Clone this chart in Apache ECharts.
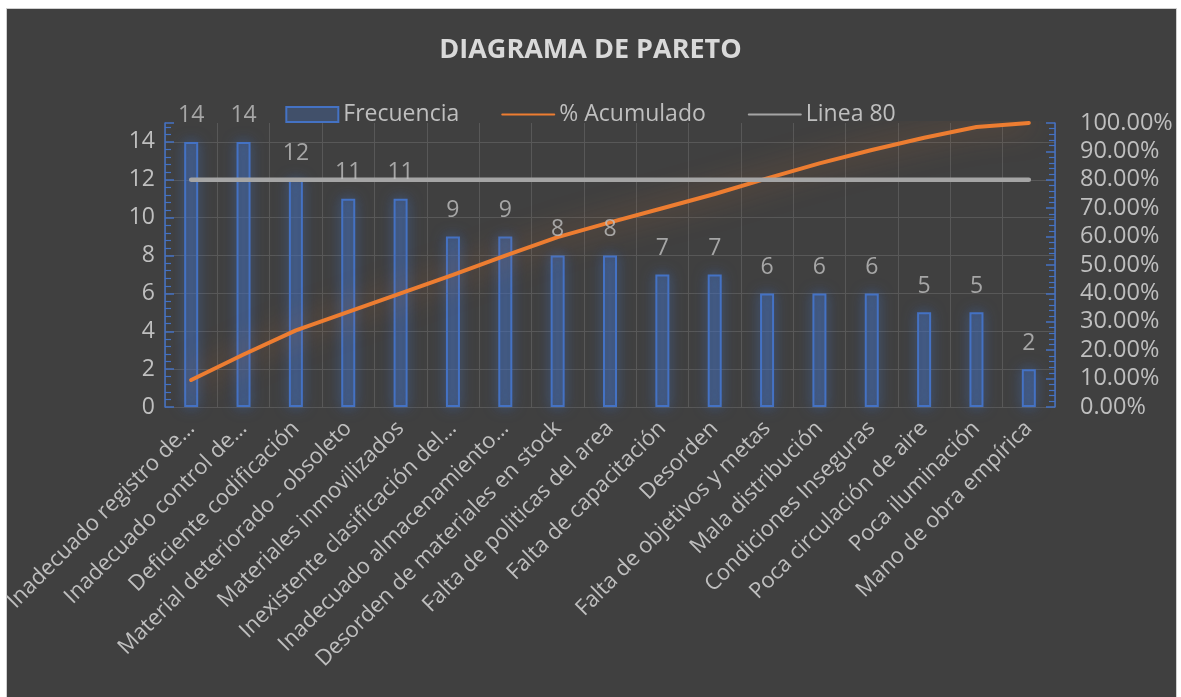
<!DOCTYPE html>
<html>
<head>
<meta charset="utf-8">
<script src="https://cdn.jsdelivr.net/npm/echarts@6/dist/echarts.min.js"></script>
<style>
  html, body { margin: 0; padding: 0; background: #ffffff; }
  #frame { position: absolute; left: 6px; top: 8px; width: 1169px; height: 700px; background: #404040; border: 1.5px solid #cfcfcf; }
  #chart { position: absolute; left: 0; top: 0; width: 1181px; height: 697px; }
</style>
</head>
<body>
<div id="frame"></div>
<div id="chart"></div>
<script>
const categories = [
  "Inadecuado registro de…",
  "Inadecuado control de…",
  "Deficiente codificación",
  "Material deteriorado - obsoleto",
  "Materiales inmovilizados",
  "Inexistente clasificación del…",
  "Inadecuado almacenamiento…",
  "Desorden de materiales en stock",
  "Falta de politicas del area",
  "Falta de capacitación",
  "Desorden",
  "Falta de objetivos y metas",
  "Mala distribución",
  "Condiciones Inseguras",
  "Poca circulación de aire",
  "Poca iluminación",
  "Mano de obra empírica"
];
const frecuencia = [14, 14, 12, 11, 11, 9, 9, 8, 8, 7, 7, 6, 6, 6, 5, 5, 2];
const acumulado = [9.5, 18.5, 27.0, 33.5, 40.0, 46.5, 53.3, 59.8, 65.0, 70.0, 75.0, 80.5, 85.8, 90.5, 94.8, 98.6, 100.0];
const linea80 = [80, 80, 80, 80, 80, 80, 80, 80, 80, 80, 80, 80, 80, 80, 80, 80, 80];
const leftTicks = [0, 2, 4, 6, 8, 10, 12, 14];

const FONT = "'Open Sans', sans-serif";
const TXT = '#bfbfbf';
const BLUE = '#4472C4';

const chart = echarts.init(document.getElementById('chart'), null, { renderer: 'canvas' });
chart.setOption({
  backgroundColor: 'transparent',
  title: {
    text: 'DIAGRAMA DE PARETO',
    left: 'center',
    top: 32,
    textStyle: { color: '#d9d9d9', fontSize: 27, fontWeight: 'bold', fontFamily: FONT }
  },
  legend: {
    left: 'center',
    top: 98,
    itemWidth: 52,
    itemHeight: 15,
    itemGap: 42,
    textStyle: { color: TXT, fontSize: 23, fontFamily: FONT },
    data: [
      { name: 'Frecuencia', icon: 'rect' },
      { name: '% Acumulado', itemStyle: { color: 'transparent', borderWidth: 0, opacity: 0 } },
      { name: 'Linea 80', itemStyle: { color: 'transparent', borderWidth: 0, opacity: 0 } }
    ]
  },
  grid: { left: 165, right: 126, top: 123, bottom: 290, outerBoundsMode: 'none', containLabel: false },
  xAxis: {
    type: 'category',
    data: categories,
    axisLine: { show: false },
    axisTick: { show: false },
    splitLine: { show: true, interval: 0, lineStyle: { color: '#585858', width: 1 } },
    axisLabel: {
      interval: 0,
      rotate: 45,
      margin: 18,
      color: TXT,
      fontSize: 22,
      fontFamily: FONT
    }
  },
  yAxis: [
    {
      type: 'value',
      min: 0,
      max: 15,
      interval: 2,
      position: 'left',
      axisLine: { show: true, lineStyle: { color: BLUE, width: 1.5 } },
      axisTick: { show: true, inside: true, length: 9, lineStyle: { color: BLUE, width: 1.5 } },
      minorTick: { show: true, splitNumber: 5, length: 6, lineStyle: { color: BLUE, width: 1.2 } },
      splitLine: { show: true, showMaxLine: false, lineStyle: { color: '#585858', width: 1 } },
      axisLabel: {
        showMaxLabel: false,
        margin: 10,
        color: TXT,
        fontSize: 23,
        fontFamily: FONT,
        formatter: function (v) { return leftTicks.indexOf(v) >= 0 ? String(v) : ''; }
      }
    },
    {
      type: 'value',
      min: 0,
      max: 100,
      interval: 10,
      position: 'right',
      axisLine: { show: true, lineStyle: { color: BLUE, width: 1.5 } },
      axisTick: { show: true, inside: true, length: 9, lineStyle: { color: BLUE, width: 1.5 } },
      minorTick: { show: true, splitNumber: 5, length: 6, lineStyle: { color: BLUE, width: 1.2 } },
      splitLine: { show: false },
      axisLabel: {
        margin: 25,
        color: TXT,
        fontSize: 23.5,
        fontFamily: FONT,
        formatter: function (v) { return v.toFixed(2) + '%'; }
      }
    }
  ],
  series: [
    {
      name: 'Frecuencia',
      type: 'bar',
      yAxisIndex: 0,
      data: frecuencia,
      barWidth: 14,
      itemStyle: {
        color: 'rgba(68,114,196,0.32)',
        borderColor: BLUE,
        borderWidth: 2,
        shadowBlur: 14,
        shadowColor: 'rgba(68,114,196,0.8)'
      },
      z: 2
    },
    {
      name: '% Acumulado',
      type: 'line',
      yAxisIndex: 1,
      data: acumulado,
      symbol: 'none',
      lineStyle: {
        color: '#ED7D31',
        width: 4,
        cap: 'round',
        shadowBlur: 30,
        shadowColor: 'rgba(237,125,49,0.6)'
      },
      itemStyle: { color: '#ED7D31' },
      z: 3
    },
    {
      name: 'Linea 80',
      type: 'line',
      yAxisIndex: 1,
      data: linea80,
      symbol: 'none',
      lineStyle: { color: '#A5A5A5', width: 4.5, cap: 'round' },
      itemStyle: { color: '#A5A5A5' },
      z: 4
    },
    {
      name: 'etiquetas',
      type: 'scatter',
      yAxisIndex: 0,
      data: frecuencia,
      symbol: 'circle',
      symbolSize: 1,
      silent: true,
      itemStyle: { color: 'transparent' },
      label: {
        show: true,
        position: 'top',
        distance: 14,
        color: TXT,
        fontSize: 23,
        fontFamily: FONT,
        formatter: function (p) { return String(p.value); }
      },
      z: 6
    }
  ]
});
</script>
</body>
</html>
